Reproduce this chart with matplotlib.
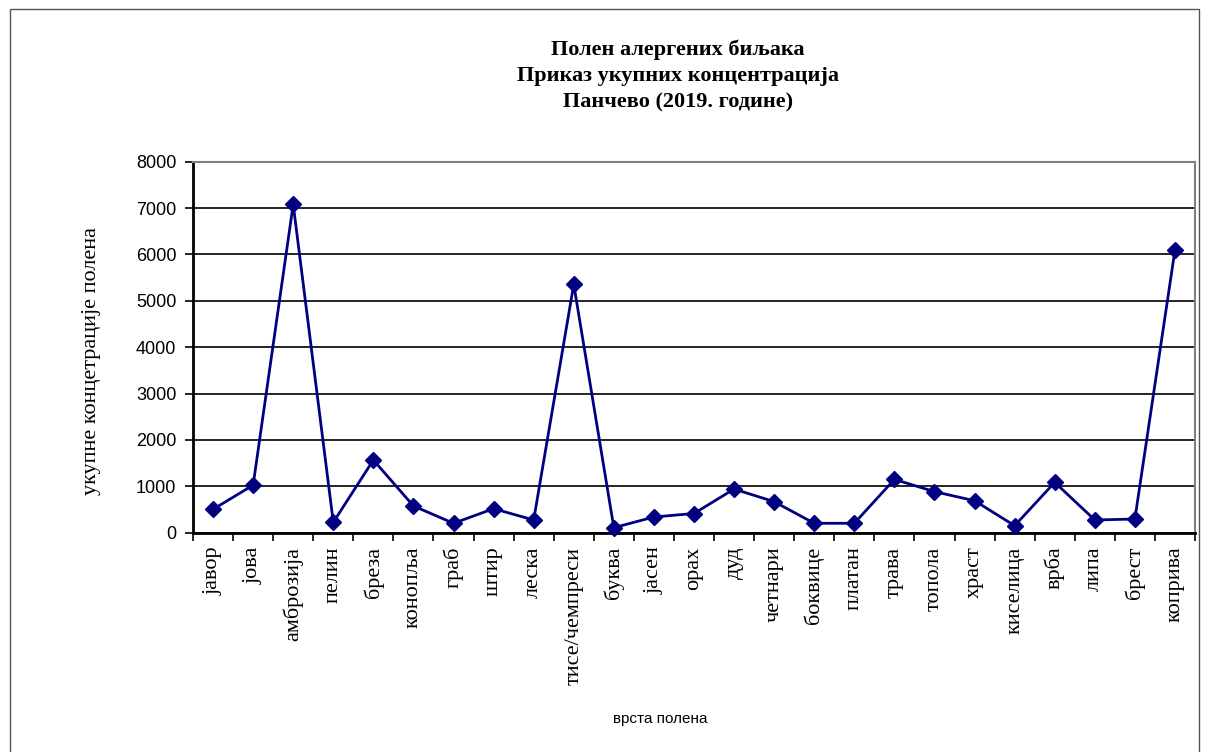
import matplotlib
matplotlib.use("Agg")
import matplotlib.pyplot as plt
from matplotlib.patches import Rectangle

categories = ["јавор", "јова", "амброзија", "пелин", "бреза", "конопља", "граб", "штир",
              "леска", "тисе/чемпреси", "буква", "јасен", "орах", "дуд", "четнари", "боквице",
              "платан", "трава", "топола", "храст", "киселица", "врба", "липа", "брест", "коприва"]
values = [505, 1025, 7080, 224, 1567, 576, 203, 518,
          274, 5355, 108, 339, 414, 942, 669, 203,
          203, 1150, 885, 690, 151, 1086, 274, 295, 6095]
yticks = [0, 1000, 2000, 3000, 4000, 5000, 6000, 7000, 8000]

title_lines = ["Полен алергених биљака", "Приказ укупних концентрација", "Панчево (2019. године)"]
ylabel = "укупне концетрације полена"
xlabel = "врста полена"

W, H = 1209, 752
fig = plt.figure(figsize=(W / 100, H / 100), dpi=100)
fig.patch.set_facecolor("white")

# outer chart border
fig.patches.append(Rectangle((10 / W, -0.05), (1199 - 10) / W, 1.05 - 9 / H,
                             transform=fig.transFigure, fill=False,
                             edgecolor="#555555", linewidth=1.0))

left, right, top, bottom = 193, 1195, 161.7, 532.7
ax = fig.add_axes([left / W, 1 - bottom / H, (right - left) / W, (bottom - top) / H])

x = list(range(len(categories)))
ax.plot(x, values, color="#000080", linewidth=2, marker="D", markersize=8,
        markerfacecolor="#000080", markeredgecolor="#000080", zorder=3, clip_on=False)

ax.set_xlim(-0.5, len(categories) - 0.5)
ax.set_ylim(0, 8000)
ax.set_yticks(yticks)
ax.set_yticklabels([str(v) for v in yticks], fontfamily="Liberation Sans", fontsize=13)
ax.yaxis.grid(True, color="black", linewidth=1.2)
ax.set_axisbelow(True)

ax.set_xticks(x)
ax.set_xticklabels(categories, rotation=90, fontfamily="Liberation Serif", fontsize=16)
ax.set_xticks([i - 0.5 for i in range(len(categories) + 1)], minor=True)
ax.tick_params(axis="x", which="major", length=0, pad=10)
ax.tick_params(axis="x", which="minor", length=6, width=1.2, direction="out")
ax.tick_params(axis="y", length=6, width=1.2, direction="out", pad=6)

for s in ["left", "bottom"]:
    ax.spines[s].set_color("black")
    ax.spines[s].set_linewidth(2)
for s in ["top", "right"]:
    ax.spines[s].set_color("#808080")
    ax.spines[s].set_linewidth(1.5)

fig.text(678 / W, 1 - 76 / H, "\n".join(title_lines), ha="center", va="center",
         fontfamily="Liberation Serif", fontweight="bold", fontsize=16, linespacing=1.42)
fig.text(92 / W, 1 - 361 / H, ylabel, rotation=90, ha="center", va="center",
         fontfamily="Liberation Serif", fontsize=16)
fig.text(660 / W, 1 - 719 / H, xlabel, ha="center", va="center",
         fontfamily="Liberation Sans", fontsize=11)

fig.savefig("out.png", dpi=100)
